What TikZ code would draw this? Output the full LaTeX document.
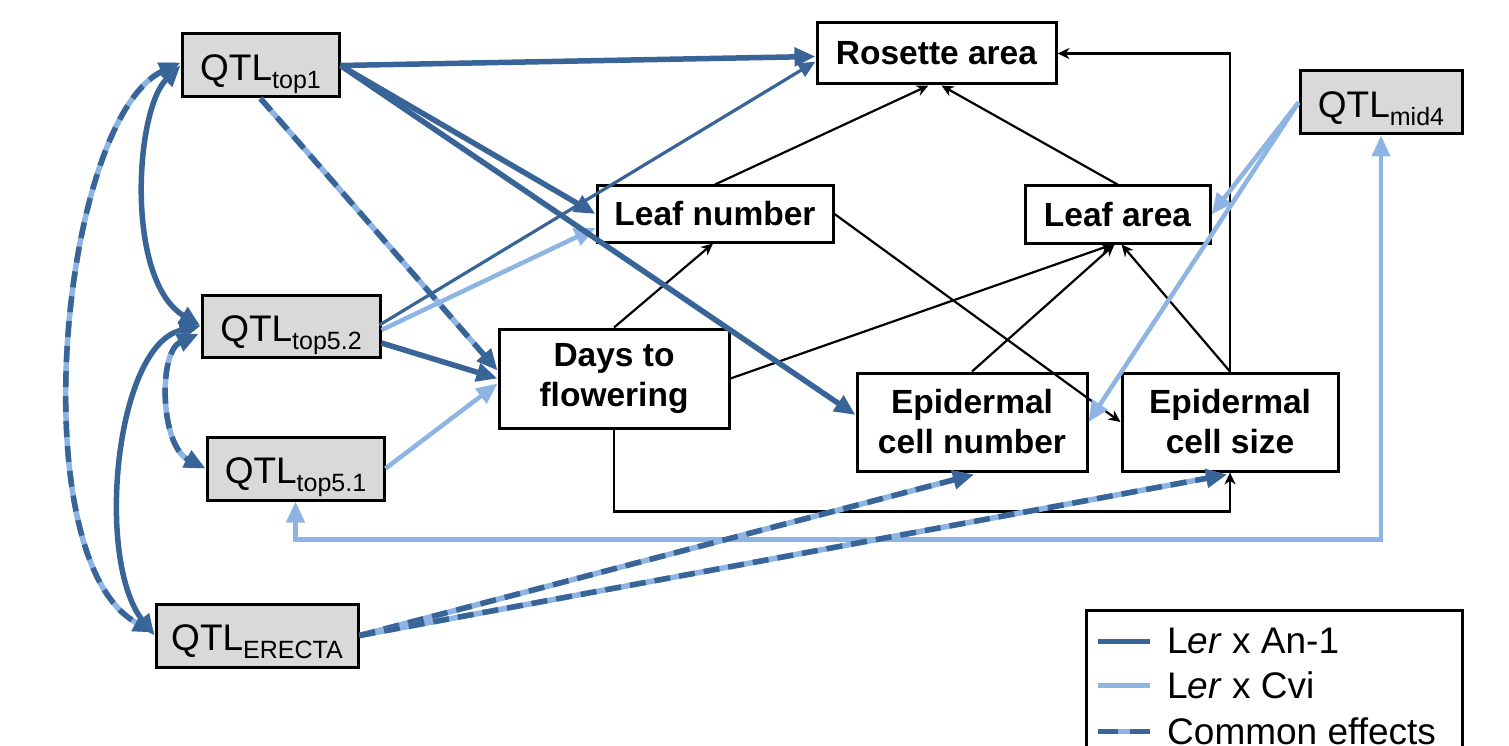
\documentclass[tikz,border=0pt]{standalone}
\usepackage{fontspec}
\setmainfont{Liberation Sans}
\usetikzlibrary{arrows.meta,calc}
\definecolor{darkb}{RGB}{56,100,152}
\definecolor{lightb}{RGB}{141,180,226}
\definecolor{boxgray}{RGB}{217,217,217}
\newcommand{\qtl}[1]{\raisebox{-15pt}[0pt][0pt]{QTL\raisebox{-8pt}{\fontsize{25}{25}\selectfont #1}}}
\begin{document}
\begin{tikzpicture}[x=1pt,y=-1pt,
  >={Triangle[length=21pt,width=18pt]},
  qtlbox/.style={draw, line width=3pt, fill=boxgray, inner sep=0pt, font=\fontsize{37}{40}\selectfont},
  varbox/.style={draw, line width=3pt, fill=white, inner sep=0pt, align=center, font=\fontsize{33.5}{40}\selectfont\bfseries},
  blk/.style={line width=2.2pt, -{Stealth[length=12pt,width=11pt]}},
  dk/.style={draw=darkb, line width=5.5pt, ->},
  dkthin/.style={draw=darkb, line width=3.2pt, -{Triangle[length=17pt,width=15pt]}},
  lt/.style={draw=lightb, line width=4.5pt, ->},
  cbase/.style={draw=lightb, line width=5.5pt},
  ctop/.style={draw=darkb, line width=5.5pt, dash pattern=on 16pt off 9pt},
  legtext/.style={anchor=west, inner sep=0pt, font=\fontsize{37}{40}\selectfont}
]
\useasboundingbox (0,0) rectangle (1509,746);
\clip (0,0) rectangle (1509,746);

% variable nodes
\node[varbox, minimum width=239pt, minimum height=61pt] (ros) at (936.5,53.5) {Rosette area};
\node[varbox, minimum width=236pt, minimum height=56pt] (ln) at (715,214) {Leaf number};
\node[varbox, minimum width=185pt, minimum height=57pt] (la) at (1117.5,214.5) {Leaf area};
\node[varbox, minimum width=230pt, minimum height=99pt] (days) at (614,378.5) {Days to\\flowering};
\node[varbox, minimum width=230pt, minimum height=98pt] (ecn) at (972,422) {Epidermal\\cell number};
\node[varbox, minimum width=216pt, minimum height=98pt] (ecs) at (1230,422) {Epidermal\\cell size};

% QTL nodes
\node[qtlbox, minimum width=157pt, minimum height=63pt] (t1) at (260.5,65.5) {\qtl{top1}};
\node[qtlbox, minimum width=178pt, minimum height=62pt] (t52) at (291,326) {\qtl{top5.2}};
\node[qtlbox, minimum width=177pt, minimum height=63pt] (t51) at (295.5,468.5) {\qtl{top5.1}};
\node[qtlbox, minimum width=202pt, minimum height=63pt] (er) at (257,635.5) {\qtl{ERECTA}};
\node[qtlbox, minimum width=162pt, minimum height=63pt] (mid) at (1381,102.5) {\qtl{mid4}};

% black causal arrows
\draw[blk] (ln.north) -- ($(ros.south)+(-8,0)$);
\draw[blk] (la.north) -- ($(ros.south)+(5,0)$);
\draw[blk] (ecs.north) |- (ros.east);
\draw[blk] (days.north) -- ($(ln.south)+(-2,0)$);
\draw[blk] (days.east) -- ($(la.south)+(-5,0)$);
\draw[blk] (days.south) -- ++(0,82) -| (ecs.south);
\draw[blk] (ln.east) -- (ecs.west);
\draw[blk] (ecn.north) -- ($(la.south)+(-3,0)$);
\draw[blk] (ecs.north) -- ($(la.south)+(4,0)$);

% Ler x Cvi (light)
\draw[lt] ($(t52.east)+(0,4)$) -- ($(ln.west)+(0,14)$);
\draw[lt] (t51.east) -- ($(days.west)+(0,5)$);
\draw[lt] (mid.west) -- (la.east);
\draw[lt] (mid.west) -- (ecn.east);
\draw[lt,<->] (t51.south) -- ++(0,38) -| (mid.south);

% Ler x An-1 (dark)
\draw[dk] (t1.east) -- ($(ros.west)+(0,3)$);
\draw[dk] (t1.east) -- (ln.west);
\draw[dk] (t1.east) -- ($(ecn.west)+(0,-7)$);
\draw[dk] ($(t52.east)+(0,17)$) -- (days.west);
\draw[dkthin] ($(t52.east)+(-2,-1)$) -- ($(ros.west)+(0,8)$);
\draw[dk,<->] (t1.west) .. controls (135,110) and (125,280) .. (t52.west);
\draw[dk,<->] (t52.west) .. controls (115,345) and (95,560) .. (er.west);

% common effects (dashed)
\draw[cbase, ->] (t1.south) -- ($(days.west)+(0,-8)$);
\draw[ctop, ->] (t1.south) -- ($(days.west)+(0,-8)$);
\draw[cbase, ->] (er.east) -- ($(ecn.south)+(2,2)$);
\draw[ctop, ->] (er.east) -- ($(ecn.south)+(2,2)$);
\draw[cbase, ->] (er.east) -- ($(ecs.south)+(-3,2)$);
\draw[ctop, ->] (er.east) -- ($(ecs.south)+(-3,2)$);
\draw[cbase, <->] ($(t52.west)+(-2,8)$) .. controls (158,352) and (160,445) .. (t51.west);
\draw[ctop, <->] ($(t52.west)+(-2,8)$) .. controls (158,352) and (160,445) .. (t51.west);
\draw[cbase, <->] ($(t1.west)+(0,-3)$) .. controls (60,120) and (20,560) .. ($(er.west)+(0,-3)$);
\draw[ctop, <->] ($(t1.west)+(0,-3)$) .. controls (60,120) and (20,560) .. ($(er.west)+(0,-3)$);

% legend
\draw[line width=3pt] (1086,760) -- (1086,610) -- (1462,610) -- (1462,760);
\coordinate (l1a) at (1098,641); \coordinate (l1b) at (1150,641);
\coordinate (l2a) at (1098,685); \coordinate (l2b) at (1150,685);
\coordinate (l3a) at (1098,731); \coordinate (l3m1) at (1118,731);
\coordinate (l3m2) at (1130,731); \coordinate (l3b) at (1150,731);
\draw[draw=darkb, line width=5pt] (l1a) -- (l1b);
\draw[draw=lightb, line width=5pt] (l2a) -- (l2b);
\draw[draw=lightb, line width=5pt] (l3a) -- (l3b);
\draw[draw=darkb, line width=5pt] (l3a) -- (l3m1);
\draw[draw=darkb, line width=5pt] (l3m2) -- (l3b);
\node[legtext] (lg1) at (1167,641) {L\textit{er} x An-1};
\node[legtext] (lg2) at (1167,685) {L\textit{er} x Cvi};
\node[legtext] (lg3) at (1167,731) {Common effects};
\end{tikzpicture}
\end{document}
